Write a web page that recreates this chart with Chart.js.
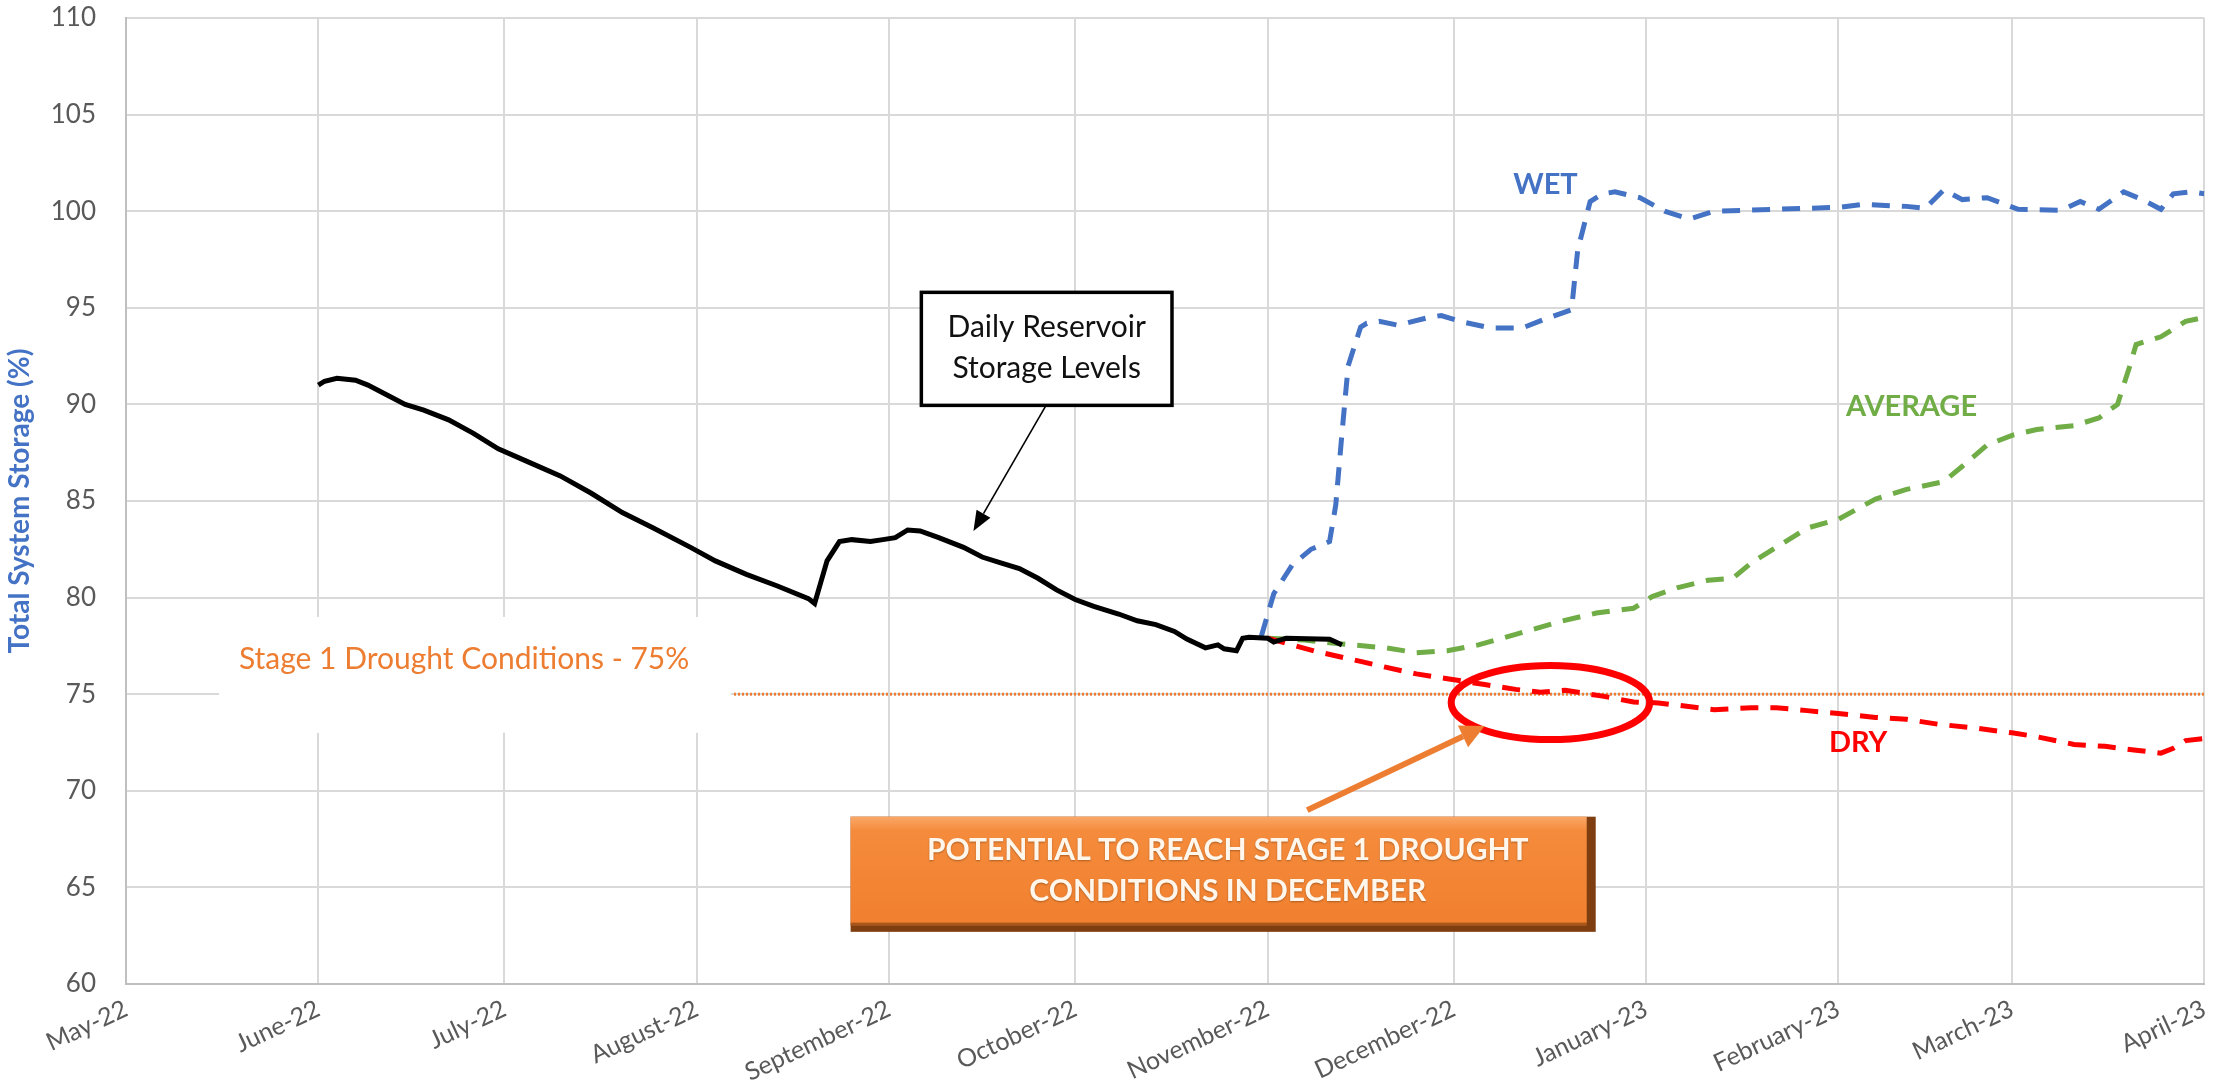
<!DOCTYPE html>
<html>
<head>
<meta charset="utf-8">
<title>Total System Storage</title>
<script src="https://cdn.jsdelivr.net/npm/chart.js@4.4.1/dist/chart.umd.min.js"></script>
<style>
    html, body { margin: 0; padding: 0; background: #ffffff; }
    #wrap { width: 2227px; height: 1088px; position: relative; }
</style>
</head>
<body>
<div id="wrap"><canvas id="storageChart"></canvas></div>
<script>
// x values are days counted from 1 May 2022
const monthDays = [0, 31, 61, 92, 123, 153, 184, 214, 245, 276, 304, 335];
const monthLabels = ['May-22', 'June-22', 'July-22', 'August-22', 'September-22', 'October-22',
    'November-22', 'December-22', 'January-23', 'February-23', 'March-23', 'April-23'];

// Daily reservoir storage (%)
const storageDays = [31, 32, 34, 37, 39, 42, 45, 48, 52, 56, 60, 65, 70, 75, 80, 85, 91, 95, 100, 105,
    110, 111, 112, 113, 115, 117, 120, 122, 124, 126, 128, 131, 135, 138, 141, 144, 147, 150, 153, 156,
    160, 163, 166, 169, 171, 174, 176, 177, 179, 180, 181, 184, 185, 187, 194, 195, 196];
const storageLevels = [91.0, 91.2, 91.35, 91.25, 91.0, 90.5, 90.0, 89.7, 89.2, 88.5, 87.7, 87.0, 86.3, 85.4, 84.4, 83.6, 82.6, 81.9, 81.2, 80.6,
    79.95, 79.7, 80.8, 81.9, 82.9, 83.0, 82.9, 83.0, 83.1, 83.5, 83.45, 83.1, 82.6, 82.1, 81.8, 81.5, 81.0, 80.4, 79.9, 79.55,
    79.15, 78.8, 78.6, 78.25, 77.85, 77.4, 77.55, 77.35, 77.25, 77.9, 77.95, 77.9, 77.7, 77.9, 77.85, 77.7, 77.55];

// Projections
const wetDays = [183, 185, 188, 191, 194, 195, 196, 197, 199, 200, 202, 205, 210, 212, 215, 220, 225, 229, 233, 234,
    236, 238, 240, 244, 248, 252, 256, 266, 276, 280, 287, 290, 293, 296, 300, 305, 312, 315, 318, 322,
    325, 328, 330, 333, 335];
const wetLevels = [78.0, 80.2, 81.7, 82.5, 82.9, 84.8, 88.5, 92.0, 94.0, 94.2, 94.3, 94.1, 94.5, 94.6, 94.3, 93.95, 93.95, 94.45, 94.9, 98.0,
    100.5, 100.9, 101.0, 100.7, 100.0, 99.6, 100.0, 100.1, 100.2, 100.35, 100.25, 100.15, 101.1, 100.6, 100.7, 100.1, 100.05, 100.5, 100.1, 101.0,
    100.6, 100.1, 100.9, 101.0, 100.9];

const avgDays = [184, 190, 196, 203, 208, 213, 218, 224, 231, 237, 243, 246, 250, 255, 259, 262, 266, 271, 276, 282,
    287, 293, 296, 300, 304, 308, 314, 318, 321, 323, 324, 328, 332, 335];
const avgLevels = [77.9, 77.8, 77.6, 77.4, 77.15, 77.25, 77.55, 78.1, 78.75, 79.2, 79.45, 80.05, 80.5, 80.9, 81.0, 81.8, 82.6, 83.6, 84.05, 85.1,
    85.6, 86.0, 86.8, 87.9, 88.4, 88.7, 88.9, 89.3, 90.0, 92.0, 93.1, 93.5, 94.3, 94.5];

const dryDays = [184, 192, 199, 203, 208, 213, 219, 224, 228, 232, 238, 243, 247, 256, 262, 266, 271, 276, 282, 287,
    292, 298, 304, 308, 314, 319, 324, 328, 330, 332, 335];
const dryLevels = [77.9, 77.2, 76.7, 76.4, 76.05, 75.8, 75.5, 75.25, 75.1, 75.2, 74.9, 74.6, 74.55, 74.2, 74.3, 74.3, 74.15, 74.0, 73.8, 73.7,
    73.45, 73.25, 73.0, 72.8, 72.4, 72.3, 72.1, 71.95, 72.2, 72.6, 72.7];

// Stage 1 drought threshold
const thresholdDays = [98, 335];
const thresholdLevels = [75, 75];

const toPoints = (xs, ys) => xs.map((d, i) => ({ x: d, y: ys[i] }));

const FONT = 'Lato, "Open Sans", sans-serif';
Chart.defaults.font.family = FONT;

// arrow helper, head is a filled triangle at (x2, y2)
function drawArrow(ctx, x1, y1, x2, y2, color, width, headLen, headHalf) {
    const ang = Math.atan2(y2 - y1, x2 - x1);
    const bx = x2 - headLen * Math.cos(ang);
    const by = y2 - headLen * Math.sin(ang);
    ctx.strokeStyle = color;
    ctx.fillStyle = color;
    ctx.lineWidth = width;
    ctx.beginPath();
    ctx.moveTo(x1, y1);
    ctx.lineTo(bx, by);
    ctx.stroke();
    ctx.beginPath();
    ctx.moveTo(x2, y2);
    ctx.lineTo(bx + headHalf * Math.sin(ang), by - headHalf * Math.cos(ang));
    ctx.lineTo(bx - headHalf * Math.sin(ang), by + headHalf * Math.cos(ang));
    ctx.closePath();
    ctx.fill();
}

// annotations, placed in data units (day, %)
const notesPlugin = {
    id: 'notes',
    beforeDatasetsDraw(chart) {
        const { ctx, scales: { x, y } } = chart;
        // white backing behind the stage 1 label
        ctx.save();
        ctx.fillStyle = '#ffffff';
        const l = x.getPixelForValue(15), r = x.getPixelForValue(97.5);
        const t = y.getPixelForValue(79.0), b = y.getPixelForValue(73.0);
        ctx.fillRect(l, t, r - l, b - t);
        ctx.restore();
    },
    afterDatasetsDraw(chart) {
        const { ctx, scales: { x, y } } = chart;
        const px = v => x.getPixelForValue(v);
        const py = v => y.getPixelForValue(v);
        ctx.save();
        ctx.textAlign = 'center';
        ctx.textBaseline = 'middle';

        // Stage 1 label
        ctx.fillStyle = '#ED7D31';
        ctx.font = '30px ' + FONT;
        ctx.fillText('Stage 1 Drought Conditions - 75%', px(54.5), py(76.8));

        // series labels
        ctx.font = 'bold 29px ' + FONT;
        ctx.fillStyle = '#4472C4';
        ctx.fillText('WET', px(228.8), py(101.4));
        ctx.fillStyle = '#70AD47';
        ctx.fillText('AVERAGE', px(287.8), py(89.9));
        ctx.fillStyle = '#FF0000';
        ctx.fillText('DRY', px(279.2), py(72.5));

        // callout box for the observed series
        const bl = px(128.2), br = px(168.6), bt = py(95.8), bb = py(89.95);
        ctx.fillStyle = '#ffffff';
        ctx.fillRect(bl, bt, br - bl, bb - bt);
        ctx.strokeStyle = '#000000';
        ctx.lineWidth = 3.5;
        ctx.strokeRect(bl, bt, br - bl, bb - bt);
        ctx.fillStyle = '#111111';
        ctx.font = '30px ' + FONT;
        ctx.fillText('Daily Reservoir', (bl + br) / 2, bt + (bb - bt) * 0.31);
        ctx.fillText('Storage Levels', (bl + br) / 2, bt + (bb - bt) * 0.67);
        drawArrow(ctx, px(148.3), bb, px(136.6), py(83.45), '#000000', 1.6, 20, 8);

        // red ellipse around the crossing
        ctx.strokeStyle = '#FF0000';
        ctx.lineWidth = 7;
        ctx.beginPath();
        ctx.ellipse(px(229.6), py(74.57), px(245.6) - px(229.6), py(72.65) - py(74.57), 0, 0, Math.PI * 2);
        ctx.stroke();

        // orange pointer
        drawArrow(ctx, px(190.4), py(69.0), px(219.0), py(73.35), '#ED7D31', 6, 24, 12);

        // orange message box
        const ol = px(116.8), or = px(236.9), ot = py(68.66), ob = py(62.7);
        const w = or - ol, h = ob - ot;
        ctx.fillStyle = '#7E3E10';
        ctx.fillRect(ol, ot, w, h);
        const g = ctx.createLinearGradient(0, ot, 0, ob);
        g.addColorStop(0, '#F9A869');
        g.addColorStop(0.12, '#F58B3C');
        g.addColorStop(1, '#F07F2E');
        ctx.fillStyle = g;
        ctx.fillRect(ol, ot, w - 9, h - 9);
        ctx.fillStyle = '#A9561C';
        ctx.fillRect(ol, ob - 9, w - 9, 3);
        ctx.fillStyle = '#FFF6EC';
        ctx.font = 'bold 30px ' + FONT;
        ctx.shadowColor = 'rgba(90, 40, 0, 0.45)';
        ctx.shadowBlur = 2;
        ctx.shadowOffsetY = 1;
        ctx.fillText('POTENTIAL TO REACH STAGE 1 DROUGHT', px(177.6), ot + h * 0.29);
        ctx.fillText('CONDITIONS IN DECEMBER', px(177.6), ot + h * 0.65);
        ctx.restore();
    }
};

const dashed = [18, 12];

new Chart(document.getElementById('storageChart').getContext('2d'), {
    type: 'line',
    data: {
        datasets: [
            {
                label: 'Daily Reservoir Storage Levels',
                data: toPoints(storageDays, storageLevels),
                borderColor: '#000000',
                borderWidth: 5,
                order: 0
            },
            {
                label: 'Dry',
                data: toPoints(dryDays, dryLevels),
                borderColor: '#FF0000',
                borderWidth: 5,
                borderDash: dashed,
                order: 1
            },
            {
                label: 'Average',
                data: toPoints(avgDays, avgLevels),
                borderColor: '#70AD47',
                borderWidth: 5,
                borderDash: dashed,
                order: 2
            },
            {
                label: 'Wet',
                data: toPoints(wetDays, wetLevels),
                borderColor: '#4472C4',
                borderWidth: 5,
                borderDash: dashed,
                order: 3
            },
            {
                label: 'Stage 1 Drought Conditions - 75%',
                data: toPoints(thresholdDays, thresholdLevels),
                borderColor: '#ED7D31',
                borderWidth: 3,
                borderDash: [2, 2],
                order: 4
            }
        ]
    },
    options: {
        responsive: true,
        maintainAspectRatio: false,
        animation: false,
        layout: { padding: { top: 18, right: 7, bottom: 0, left: 0 } },
        elements: {
            point: { radius: 0, hoverRadius: 0 },
            line: { tension: 0, fill: false }
        },
        plugins: {
            legend: { display: false },
            tooltip: { enabled: false }
        },
        scales: {
            x: {
                type: 'linear',
                min: 0,
                max: 335,
                afterBuildTicks: axis => {
                    axis.ticks = monthDays.map(v => ({ value: v }));
                },
                afterFit: scale => { scale.height = 104; },
                ticks: {
                    color: '#595959',
                    font: { size: 25 },
                    minRotation: 25,
                    maxRotation: 25,
                    padding: 10,
                    callback: value => monthLabels[monthDays.indexOf(value)]
                },
                grid: { color: '#D9D9D9', lineWidth: 2, drawTicks: false },
                border: { color: '#BFBFBF', width: 2 }
            },
            y: {
                min: 60,
                max: 110,
                afterFit: scale => {
                    scale.width = 126;
                    // tick padding is horizontal only here, keep it out of the top/bottom margins
                    scale.paddingTop = 2;
                    scale.paddingBottom = 2;
                },
                ticks: {
                    stepSize: 5,
                    color: '#595959',
                    font: { size: 26 },
                    padding: 30
                },
                grid: { color: '#D9D9D9', lineWidth: 2, drawTicks: false },
                border: { color: '#BFBFBF', width: 2 },
                title: {
                    display: true,
                    text: 'Total System Storage (%)',
                    color: '#4472C4',
                    font: { size: 28, weight: 'bold' },
                    padding: { top: 3, bottom: 0 }
                }
            }
        }
    },
    plugins: [notesPlugin]
});
</script>
</body>
</html>
